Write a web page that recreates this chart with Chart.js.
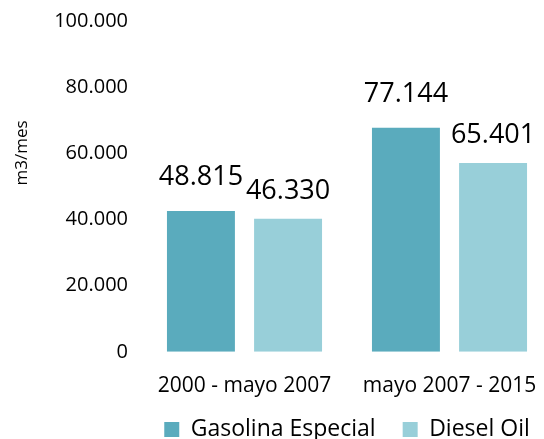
<!DOCTYPE html>
<html>
<head>
<meta charset="utf-8">
<script src="https://cdn.jsdelivr.net/npm/chart.js@4/dist/chart.umd.min.js"></script>
<style>
  html, body { margin: 0; padding: 0; background: #fff; overflow: hidden; }
  #wrap { width: 544px; height: 439px; overflow: hidden; }
  #box { width: 694px; height: 439px; }
</style>
</head>
<body>
<div id="wrap"><div id="box"><canvas id="chart_1"></canvas></div></div>
<script>
const periods = ['2000 - mayo 2007', 'mayo 2007 - 2015'];
const seriesNames = ['Gasolina Especial', 'Diesel Oil'];
// bar heights as drawn in the picture
const gasolinaValues = [42600, 67700];
const dieselValues = [40200, 57100];
// value labels printed above the bars
const gasolinaLabels = ['48.815', '77.144'];
const dieselLabels = ['46.330', '65.401'];
const yTicks = [0, 20000, 40000, 60000, 80000, 100000];

const colors = ['rgb(90,171,189)', 'rgb(152,207,217)'];
const FONT = "'Open Sans', sans-serif";

function fmt(v) {
  return v.toString().replace(/\B(?=(\d{3})+(?!\d))/g, '.');
}

const labelPlugin = {
  id: 'barLabels',
  afterLayout(chart) {
    // nudge the legend so it sits where the original one does
    const lg = chart.legend;
    if (lg) {
      lg.top -= 30;
      lg.bottom -= 30;
    }
  },
  afterDatasetsDraw(chart) {
    const ctx = chart.ctx;
    const texts = [gasolinaLabels, dieselLabels];
    const offsets = [26, 20];
    ctx.save();
    ctx.font = '27px ' + FONT;
    ctx.fillStyle = '#000';
    ctx.textAlign = 'center';
    ctx.textBaseline = 'alphabetic';
    chart.data.datasets.forEach(function (ds, i) {
      const meta = chart.getDatasetMeta(i);
      meta.data.forEach(function (bar, j) {
        ctx.fillText(texts[i][j], bar.x, bar.y - offsets[i]);
      });
    });
    ctx.restore();
  },
  afterDraw(chart) {
    const ctx = chart.ctx;
    ctx.save();
    ctx.font = '17px ' + FONT;
    ctx.fillStyle = '#000';
    ctx.textAlign = 'center';
    ctx.textBaseline = 'middle';
    ctx.translate(22, 153);
    ctx.rotate(-Math.PI / 2);
    ctx.fillText('m3/mes', 0, 0);
    ctx.restore();
  },
};

new Chart('chart_1', {
  type: 'bar',
  data: {
    labels: periods,
    datasets: [
      {
        label: seriesNames[0],
        data: gasolinaValues,
        backgroundColor: colors[0],
        categoryPercentage: 0.85,
        barPercentage: 0.78,
      },
      {
        label: seriesNames[1],
        data: dieselValues,
        backgroundColor: colors[1],
        categoryPercentage: 0.85,
        barPercentage: 0.78,
      },
    ],
  },
  options: {
    responsive: true,
    maintainAspectRatio: false,
    animation: false,
    layout: { padding: { top: 0, right: 0, bottom: -42, left: 0 } },
    plugins: {
      legend: {
        position: 'bottom',
        labels: {
          boxWidth: 15,
          boxHeight: 15,
          padding: 27,
          color: '#000',
          font: { family: FONT, size: 23 },
        },
      },
      tooltip: { enabled: false },
    },
    scales: {
      x: {
        grid: { display: false, drawTicks: false },
        border: { display: false },
        ticks: {
          color: '#000',
          padding: 22,
          font: { family: FONT, size: 21 },
        },
      },
      y: {
        min: 0,
        max: 100000,
        grid: { display: false, drawTicks: false },
        border: { display: false },
        afterBuildTicks(scale) {
          scale.ticks = yTicks.map(function (v) { return { value: v }; });
        },
        afterFit(scale) {
          scale.width = 142;
          scale.paddingTop = Math.max(0, scale.paddingTop - 5);
        },
        ticks: {
          color: '#000',
          padding: 14,
          font: { family: FONT, size: 20 },
          callback: function (v) { return fmt(v); },
        },
      },
      // empty right-hand axis, only reserves room so the plot is centred
      yRight: {
        position: 'right',
        grid: { display: false, drawTicks: false },
        border: { display: false },
        ticks: { display: false },
        afterFit(scale) {
          scale.width = 142;
        },
      },
    },
  },
  plugins: [labelPlugin],
});
</script>
</body>
</html>
